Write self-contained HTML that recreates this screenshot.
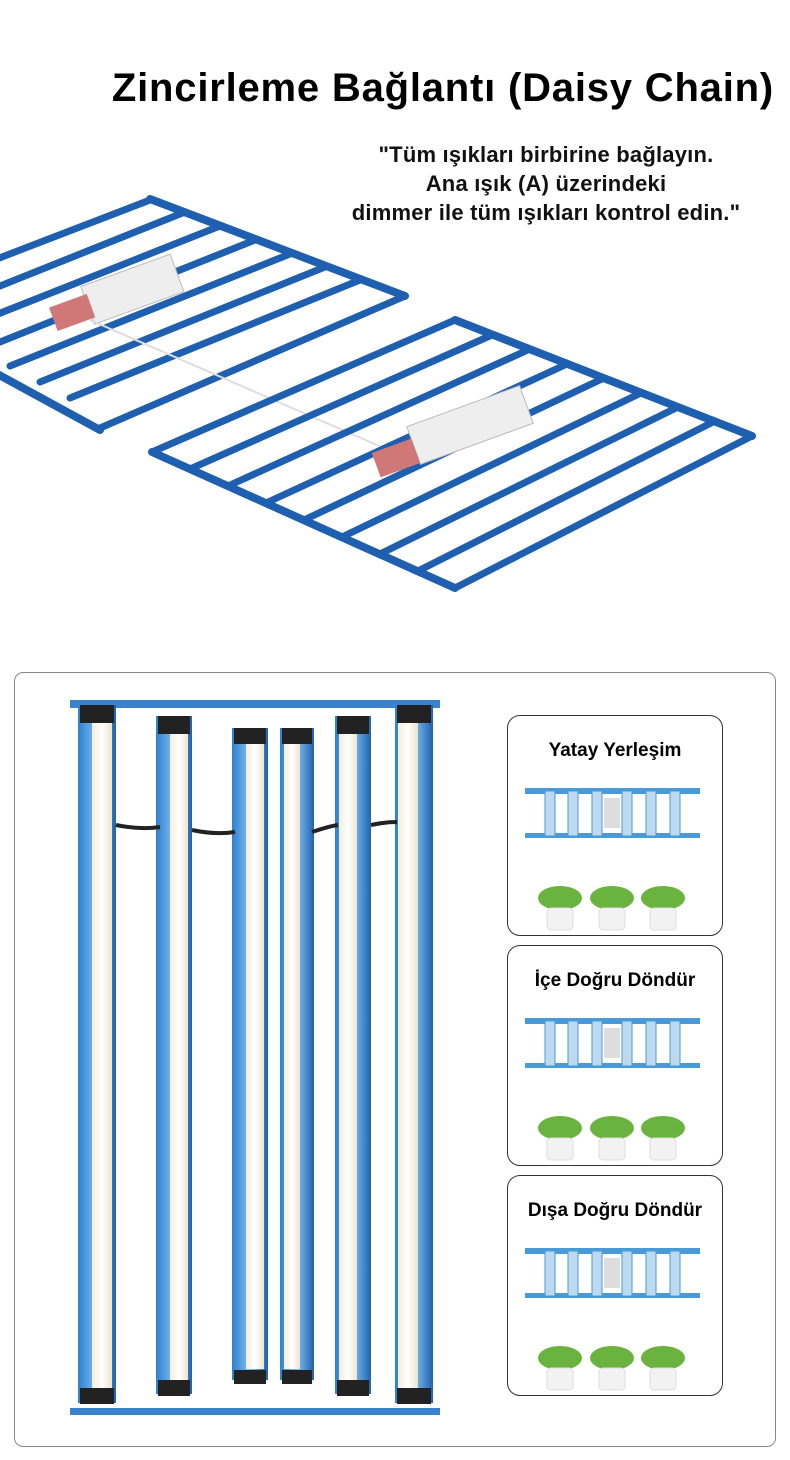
<!DOCTYPE html>
<html><head><meta charset="utf-8"><style>
body{margin:0;width:790px;height:1460px;background:#fff;position:relative;overflow:hidden;font-family:"Liberation Sans",sans-serif}
.t{position:absolute;right:16px;top:66px;font-size:40px;font-weight:bold;color:#000;letter-spacing:0.8px;white-space:nowrap}
.q{position:absolute;right:14px;top:140px;width:460px;text-align:center;font-size:22px;font-weight:bold;line-height:29px;color:#111;letter-spacing:0.2px;white-space:nowrap}
.box{position:absolute;left:14px;top:672px;width:760px;height:773px;border:1px solid #888;border-radius:9px}
.card{position:absolute;left:507px;width:214px;height:219px;border:1px solid #333;border-radius:13px}
.card h{display:block;text-align:center;margin-top:24px;font-weight:bold;font-size:19px}
</style></head><body>
<svg width="790" height="1460" style="position:absolute;left:0;top:0">
<defs><linearGradient id="bar" x1="0" x2="1"><stop offset="0" stop-color="#2d7fd0"/><stop offset=".5" stop-color="#7fc0f0"/><stop offset="1" stop-color="#1f62b0"/></linearGradient>
<linearGradient id="led" x1="0" x2="1"><stop offset="0" stop-color="#f6ecd8"/><stop offset=".5" stop-color="#fff"/><stop offset="1" stop-color="#efe4cc"/></linearGradient></defs>
<g stroke="#1f5fb0" stroke-width="7" stroke-linecap="round">
<line x1="150" y1="199" x2="405" y2="296" stroke-width="8"/>
<line x1="-120" y1="310" x2="100" y2="430" stroke-width="8"/>
<line x1="-110" y1="300" x2="150" y2="200"/>
<line x1="-80" y1="318" x2="185" y2="212"/>
<line x1="-50" y1="333" x2="220" y2="226"/>
<line x1="-20" y1="350" x2="255" y2="240"/>
<line x1="10" y1="366" x2="290" y2="254"/>
<line x1="40" y1="382" x2="325" y2="267"/>
<line x1="70" y1="398" x2="360" y2="280"/>
<line x1="100" y1="428" x2="405" y2="296"/>
</g>
<rect x="85" y="270" width="95" height="40" fill="#eee" stroke="#bbb" transform="rotate(-20 130 290)"/>
<rect x="52" y="300" width="40" height="25" fill="#d07878" transform="rotate(-20 72 312)"/>
<line x1="90" y1="320" x2="400" y2="455" stroke="#ddd" stroke-width="2"/>
<g stroke="#1f5fb0" stroke-width="7" stroke-linecap="round">
<line x1="455" y1="320" x2="752" y2="436" stroke-width="8"/>
<line x1="152" y1="452" x2="455" y2="588" stroke-width="8"/>
<line x1="152" y1="452" x2="455" y2="320"/>
<line x1="190" y1="469" x2="492" y2="335"/>
<line x1="228" y1="486" x2="530" y2="349"/>
<line x1="266" y1="503" x2="567" y2="364"/>
<line x1="304" y1="520" x2="604" y2="378"/>
<line x1="342" y1="537" x2="641" y2="393"/>
<line x1="380" y1="554" x2="678" y2="407"/>
<line x1="418" y1="571" x2="715" y2="421"/>
<line x1="455" y1="588" x2="752" y2="436"/>
</g>
<rect x="410" y="405" width="120" height="40" fill="#eee" stroke="#bbb" transform="rotate(-20 470 425)"/>
<rect x="375" y="445" width="42" height="26" fill="#d07878" transform="rotate(-20 396 458)"/>
<rect x="70" y="700" width="370" height="8" fill="#3b82cc"/>
<rect x="70" y="1408" width="370" height="7" fill="#3b82cc"/>
<g>
<rect x="78" y="705" width="38" height="698" fill="url(#bar)"/><rect x="92" y="722" width="20" height="670" fill="url(#led)"/><rect x="80" y="705" width="34" height="18" fill="#222"/><rect x="80" y="1388" width="34" height="16" fill="#222"/>
<rect x="156" y="716" width="36" height="678" fill="url(#bar)"/><rect x="170" y="732" width="18" height="650" fill="url(#led)"/><rect x="158" y="716" width="32" height="18" fill="#222"/><rect x="158" y="1380" width="32" height="16" fill="#222"/>
<rect x="232" y="728" width="36" height="652" fill="url(#bar)"/><rect x="246" y="744" width="18" height="625" fill="url(#led)"/><rect x="234" y="728" width="32" height="16" fill="#222"/><rect x="234" y="1370" width="32" height="14" fill="#222"/>
<rect x="280" y="728" width="34" height="652" fill="url(#bar)"/><rect x="284" y="744" width="16" height="625" fill="url(#led)"/><rect x="282" y="728" width="30" height="16" fill="#222"/><rect x="282" y="1370" width="30" height="14" fill="#222"/>
<rect x="335" y="716" width="36" height="678" fill="url(#bar)"/><rect x="339" y="732" width="18" height="650" fill="url(#led)"/><rect x="337" y="716" width="32" height="18" fill="#222"/><rect x="337" y="1380" width="32" height="16" fill="#222"/>
<rect x="395" y="705" width="38" height="698" fill="url(#bar)"/><rect x="398" y="722" width="20" height="670" fill="url(#led)"/><rect x="397" y="705" width="34" height="18" fill="#222"/><rect x="397" y="1388" width="34" height="16" fill="#222"/>
</g>
<path d="M116 825 Q140 830 160 827 M192 830 Q215 835 235 832 M312 832 Q330 826 338 825 M371 825 Q385 822 397 822" stroke="#222" stroke-width="4" fill="none"/>
<g id="mini">
<rect x="525" y="788" width="175" height="6" fill="#4a9ad8"/><rect x="525" y="833" width="175" height="5" fill="#4a9ad8"/>
<g fill="#bcd9f0" stroke="#4a9ad8"><rect x="545" y="791" width="10" height="45"/><rect x="568" y="791" width="10" height="45"/><rect x="592" y="791" width="10" height="45"/><rect x="622" y="791" width="10" height="45"/><rect x="646" y="791" width="10" height="45"/><rect x="670" y="791" width="10" height="45"/></g>
<rect x="604" y="798" width="16" height="30" fill="#ddd"/>
<g fill="#6ab33e"><ellipse cx="560" cy="898" rx="22" ry="12"/><ellipse cx="612" cy="898" rx="22" ry="12"/><ellipse cx="663" cy="898" rx="22" ry="12"/></g>
<g fill="#f2f2f2" stroke="#ddd"><rect x="547" y="908" width="26" height="22" rx="4"/><rect x="599" y="908" width="26" height="22" rx="4"/><rect x="650" y="908" width="26" height="22" rx="4"/></g>
</g>
<use href="#mini" y="230"/><use href="#mini" y="460"/>
</svg>
<div class="t">Zincirleme Bağlantı (Daisy Chain)</div>
<div class="q">"Tüm ışıkları birbirine bağlayın.<br>Ana ışık (A) üzerindeki<br>dimmer ile tüm ışıkları kontrol edin."</div>
<div class="box"></div>
<div class="card" style="top:715px"><h>Yatay Yerleşim</h></div>
<div class="card" style="top:945px"><h>İçe Doğru Döndür</h></div>
<div class="card" style="top:1175px"><h>Dışa Doğru Döndür</h></div>
</body></html>
